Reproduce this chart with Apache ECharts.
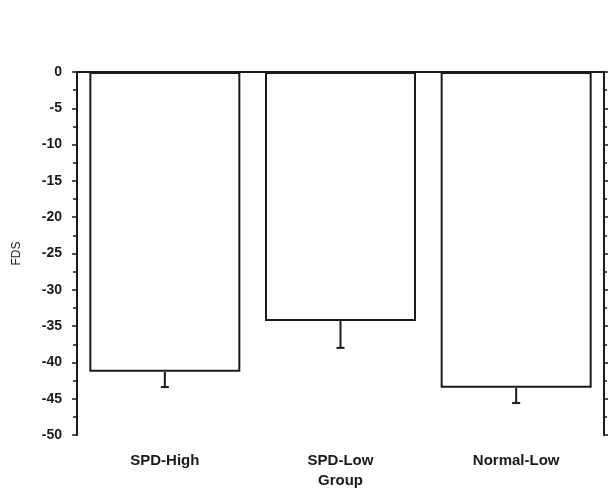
<!DOCTYPE html>
<html>
<head>
<meta charset="utf-8">
<script src="https://cdn.jsdelivr.net/npm/echarts@6/dist/echarts.min.js"></script>
<style>
  html, body { margin: 0; padding: 0; background: #fff; }
  #chart { width: 608px; height: 491px; }
</style>
</head>
<body>
<div id="chart"></div>
<script>
// groups on the x axis
var groups = ['SPD-High', 'SPD-Low', 'Normal-Low'];
// mean FDS per group (bars hang down from 0)
var fdsMean = [-41.3, -34.3, -43.5];
// lower end of each error bar
var fdsErrLow = [-43.4, -38.0, -45.6];
// y ticks
var yMin = -50, yMax = 0, yStep = 5;

var ink = '#1a1a1a';
var chart = echarts.init(document.getElementById('chart'));

var errData = groups.map(function (g, i) { return [i, fdsMean[i], fdsErrLow[i]]; });

var option = {
  backgroundColor: '#fff',
  animation: false,
  grid: { left: 77, right: 4, top: 72, bottom: 56, outerBoundsMode: 'none' },
  xAxis: [
    {
      type: 'category',
      data: groups,
      position: 'bottom',
      name: 'Group',
      nameLocation: 'middle',
      nameGap: 38,
      nameTextStyle: { color: ink, fontSize: 15, fontWeight: 'bold', fontFamily: 'Liberation Sans' },
      axisLine: { lineStyle: { color: ink, width: 2 } },
      axisTick: { alignWithLabel: true, length: 4, lineStyle: { color: ink, width: 1.5 } },
      axisLabel: { color: ink, fontSize: 15, fontWeight: 'bold', margin: 18, fontFamily: 'Liberation Sans' },
      splitLine: { show: false }
    },
    {
      type: 'category',
      data: groups,
      position: 'top',
      axisLine: { onZero: false, lineStyle: { color: ink, width: 2 } },
      axisTick: { alignWithLabel: true, length: 3, lineStyle: { color: ink, width: 1.5 } },
      axisLabel: { show: false },
      splitLine: { show: false }
    }
  ],
  yAxis: [
    {
      type: 'value',
      min: yMin,
      max: yMax,
      interval: yStep,
      position: 'left',
      name: 'FDS',
      nameLocation: 'middle',
      nameGap: 54,
      nameTextStyle: { color: ink, fontSize: 12, fontFamily: 'Liberation Sans' },
      axisLine: { show: true, lineStyle: { color: ink, width: 2 } },
      axisTick: { show: true, length: 5, lineStyle: { color: ink, width: 1.5 } },
      minorTick: { show: true, splitNumber: 2, length: 4, lineStyle: { color: ink, width: 1.5 } },
      axisLabel: { color: ink, fontSize: 14, fontWeight: 'bold', margin: 15, fontFamily: 'Liberation Sans' },
      splitLine: { show: false }
    },
    {
      type: 'value',
      min: yMin,
      max: yMax,
      interval: yStep,
      position: 'right',
      axisLine: { show: true, lineStyle: { color: ink, width: 2 } },
      axisTick: { show: true, length: 4, lineStyle: { color: ink, width: 1.5 } },
      minorTick: { show: true, splitNumber: 2, length: 3, lineStyle: { color: ink, width: 1.5 } },
      axisLabel: { show: false },
      splitLine: { show: false }
    }
  ],
  series: [
    {
      type: 'bar',
      data: fdsMean,
      barWidth: 151,
      itemStyle: { color: '#fff', borderColor: ink, borderWidth: 2 },
      z: 2
    },
    {
      type: 'custom',
      data: errData,
      z: 3,
      renderItem: function (params, api) {
        var x = api.value(0);
        var top = api.coord([x, api.value(1)]);
        var bot = api.coord([x, api.value(2)]);
        var half = 4;
        var style = { stroke: ink, lineWidth: 2 };
        return {
          type: 'group',
          children: [
            { type: 'line', shape: { x1: top[0], y1: top[1], x2: bot[0], y2: bot[1] }, style: style },
            { type: 'line', shape: { x1: bot[0] - half, y1: bot[1], x2: bot[0] + half, y2: bot[1] }, style: style }
          ]
        };
      }
    }
  ]
};
chart.setOption(option);
</script>
</body>
</html>
